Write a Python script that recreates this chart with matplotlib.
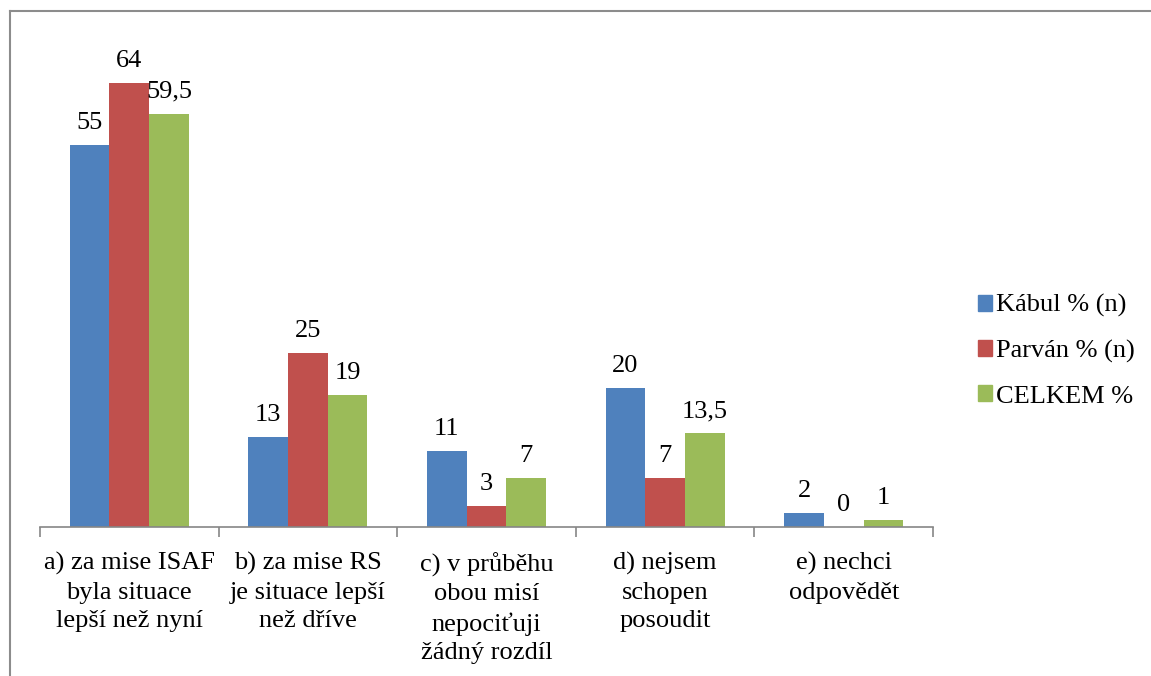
import matplotlib.pyplot as plt
import numpy as np
from matplotlib.patches import Rectangle
from matplotlib.lines import Line2D

plt.rcParams['font.family'] = ['Liberation Serif', 'DejaVu Serif']

categories = [
    "a) za mise ISAF\nbyla situace\nlepší než nyní",
    "b) za mise RS\nje situace lepší\nnež dříve",
    "c) v průběhu\nobou misí\nnepociťuji\nžádný rozdíl",
    "d) nejsem\nschopen\nposoudit",
    "e) nechci\nodpovědět",
]
kabul = [55, 13, 11, 20, 2]
parvan = [64, 25, 3, 7, 0]
celkem = [59.5, 19, 7, 13.5, 1]
series_names = ["Kábul % (n)", "Parván % (n)", "CELKEM %"]
colors = ["#4F81BD", "#C0504D", "#9BBB59"]


def fmt(v):
    return str(v).replace(".", ",") if v != int(v) else str(int(v))


fig = plt.figure(figsize=(11.51, 6.76), dpi=100)

# outer chart frame (only top and left edges are visible)
fig.add_artist(Line2D([10 / 1151, 10 / 1151], [0, 1 - 11 / 676],
                      transform=fig.transFigure, color="#8c8c8c", lw=1.5))
fig.add_artist(Line2D([10 / 1151, 1], [1 - 11 / 676, 1 - 11 / 676],
                      transform=fig.transFigure, color="#8c8c8c", lw=1.5))

ax = fig.add_axes([40 / 1151, 149 / 676, 893 / 1151, 486 / 676])

x = np.arange(len(categories))
w = 0.222
for i, (vals, name, c) in enumerate(zip([kabul, parvan, celkem], series_names, colors)):
    pos = x + (i - 1) * w
    ax.bar(pos, vals, width=w, color=c, label=name)
    for p, v in zip(pos, vals):
        ax.annotate(fmt(v), (p, v), xytext=(0, 8), textcoords="offset points",
                    ha="center", va="bottom", fontsize=19)

ax.set_xlim(-0.5, len(categories) - 0.5)
ax.set_ylim(0, 70)
for s in ["top", "right", "left"]:
    ax.spines[s].set_visible(False)
ax.spines["bottom"].set_color("#868686")
ax.spines["bottom"].set_linewidth(1.2)
ax.set_yticks([])

ax.set_xticks(np.arange(len(categories) + 1) - 0.5)
ax.set_xticklabels([])
ax.tick_params(axis="x", length=7, color="#868686", width=1.2)
for xi, lab in zip(x, categories):
    ax.text(xi, -0.052, lab, transform=ax.get_xaxis_transform(), ha="center",
            va="top", fontsize=19, linespacing=1.38)

handles = [Rectangle((0, 0), 1, 1, color=c) for c in colors]
fig.legend(handles, series_names, loc="center left",
           bbox_to_anchor=(954 / 1151, 1 - 351 / 676), frameon=False,
           fontsize=19, handlelength=0.55, handleheight=0.55, handletextpad=0.15,
           labelspacing=0.85)

fig.savefig("out.png", dpi=100)
